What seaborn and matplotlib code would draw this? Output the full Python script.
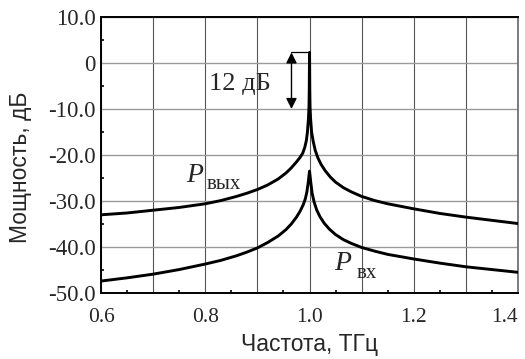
import numpy as np
import pandas as pd
import matplotlib
matplotlib.use("Agg")
import matplotlib.pyplot as plt
import seaborn as sns
from matplotlib.ticker import MultipleLocator

# --- data ---
freq_out = [0.60, 0.65, 0.70, 0.75, 0.80, 0.83, 0.86, 0.88, 0.90, 0.92, 0.94, 0.955,
            0.965, 0.975, 0.982, 0.987, 0.991, 0.994, 0.996, 0.998, 0.999, 0.9995,
            1.000, 1.0005, 1.001, 1.002, 1.004, 1.007, 1.011, 1.016, 1.022, 1.030,
            1.040, 1.050, 1.065, 1.080, 1.100, 1.125, 1.150, 1.200, 1.250, 1.300,
            1.350, 1.400]
p_out = [-33.0, -32.6, -32.0, -31.4, -30.6, -29.9, -29.0, -28.3, -27.5, -26.5, -25.2, -23.9,
         -22.8, -21.5, -20.5, -19.6, -18.3, -16.8, -15.0, -12.0, -9.5, -6.0,
         2.3, -6.0, -9.5, -12.0, -15.0, -17.0, -19.0, -20.6, -22.0, -23.4,
         -24.8, -25.9, -27.1, -28.0, -29.0, -29.9, -30.6, -31.7, -32.7, -33.5,
         -34.2, -34.9]

freq_in = [0.60, 0.65, 0.70, 0.75, 0.80, 0.83, 0.86, 0.88, 0.90, 0.92, 0.94, 0.955,
           0.965, 0.975, 0.982, 0.988, 0.992, 0.995, 0.9975, 1.000, 1.0025, 1.005,
           1.009, 1.014, 1.020, 1.028, 1.038, 1.050, 1.065, 1.080, 1.100, 1.125,
           1.150, 1.200, 1.250, 1.300, 1.350, 1.400]
p_in = [-47.4, -46.7, -45.9, -44.9, -43.7, -42.9, -41.9, -41.1, -40.2, -39.0, -37.6, -36.2,
        -35.0, -33.5, -32.2, -30.8, -29.5, -28.0, -26.0, -23.5, -26.0, -28.3,
        -30.3, -32.0, -33.4, -34.8, -36.1, -37.3, -38.4, -39.2, -40.1, -40.9,
        -41.6, -42.6, -43.5, -44.3, -44.9, -45.5]

y_ticks = [10, 0, -10, -20, -30, -40, -50]
y_tick_labels = ["10.0", "0", "-10.0", "-20.0", "-30.0", "-40.0", "-50.0"]
x_ticks = [0.6, 0.7, 0.8, 0.9, 1.0, 1.1, 1.2, 1.3, 1.4]
x_tick_labels = ["0.6", "", "0.8", "", "1.0", "", "1.2", "", "1.4"]

df_out = pd.DataFrame({"freq": freq_out, "power": p_out})
df_in = pd.DataFrame({"freq": freq_in, "power": p_in})

sns.set_theme(style="white")
plt.rcParams["font.family"] = ["Liberation Serif", "DejaVu Serif"]

fig, ax = plt.subplots(figsize=(5.25, 3.59), dpi=100)
fig.subplots_adjust(left=0.1924, right=0.9867, top=0.9526, bottom=0.1838)

# grid: darker vertical lines, lighter horizontal lines
for xv in x_ticks:
    ax.axvline(xv, color="#555555", lw=0.8, zorder=1)
for yv in y_ticks:
    ax.axhline(yv, color="#9a9a9a", lw=1.0, zorder=1)

sns.lineplot(data=df_out, x="freq", y="power", sort=False, estimator=None,
             color="black", lw=2.1, ax=ax, zorder=3)
sns.lineplot(data=df_in, x="freq", y="power", sort=False, estimator=None,
             color="black", lw=2.1, ax=ax, zorder=3)

ax.set_xlim(0.6, 1.4)
ax.set_ylim(-50, 10)

ax.set_xticks(x_ticks)
ax.set_xticklabels(x_tick_labels)
ax.xaxis.set_minor_locator(MultipleLocator(0.05))
ax.set_yticks(y_ticks)
ax.set_yticklabels(y_tick_labels)
ax.yaxis.set_minor_locator(MultipleLocator(5))

ax.tick_params(axis="x", which="major", direction="in", length=4, width=1.2,
               labelsize=15.5, pad=11, color="black")
ax.tick_params(axis="x", which="minor", direction="in", length=2.5, width=1.2,
               color="black", bottom=True)
ax.tick_params(axis="y", which="major", direction="out", length=3, width=1.2,
               labelsize=16.5, pad=1, color="black")
ax.tick_params(axis="y", which="minor", direction="in", length=2.5, width=1.2,
               color="black", left=True)
ax.get_xticklabels()[-1].set_horizontalalignment("right")

for side in ["left", "bottom", "top"]:
    ax.spines[side].set_color("black")
    ax.spines[side].set_linewidth(1.4)
ax.spines["right"].set_color("#666666")
ax.spines["right"].set_linewidth(1.2)

ax.set_xlabel("Частота, ТГц", family=["Liberation Sans", "DejaVu Sans"],
              fontsize=16.5, labelpad=4)
ax.set_ylabel("Мощность, дБ", family=["Liberation Sans", "DejaVu Sans"],
              fontsize=16.5, va="center")
ax.yaxis.set_label_coords(-0.192, 0.457)

# curve labels
ax.text(0.763, -25.9, "P", style="italic", fontsize=20, ha="left", va="baseline")
ax.text(0.802, -27.4, "вых", fontsize=15, ha="left", va="baseline")
ax.text(1.048, -45.0, "P", style="italic", fontsize=20, ha="left", va="baseline")
ax.text(1.090, -46.7, "вх", fontsize=15, ha="left", va="baseline")

# 12 dB marker
top_level, low_level = 2.3, -10.0
arrow_x = 0.9654
ax.plot([arrow_x, 1.0], [top_level, top_level], color="black", lw=0.9, zorder=4)
ax.annotate("", xy=(arrow_x, top_level), xytext=(arrow_x, low_level),
            arrowprops=dict(arrowstyle="<|-|>", color="black", lw=1.0,
                            mutation_scale=16, shrinkA=0, shrinkB=0), zorder=4)
ax.text(0.808, -5.9, "12 дБ", fontsize=19, ha="left", va="baseline")

fig.savefig("out.png", dpi=100)
